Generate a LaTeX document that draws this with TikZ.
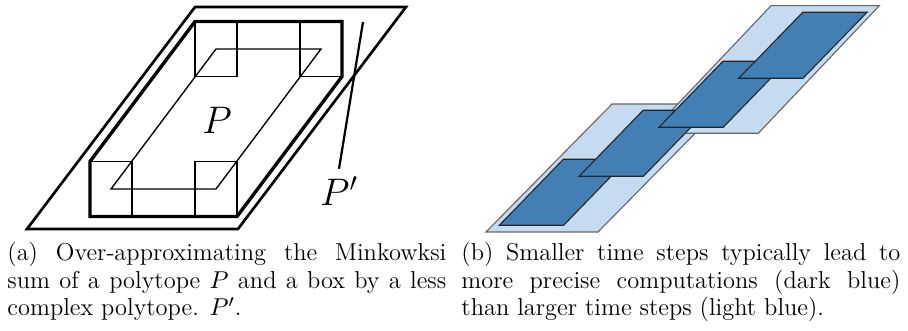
\documentclass[tikz,border=0pt]{standalone}
\usepackage{amsmath}
\usepackage{xcolor}
\usepackage{tikz}
\usetikzlibrary{positioning,calc}
\definecolor{fineblue}{RGB}{65,127,181}
\definecolor{coarseblue}{RGB}{198,219,239}

\begin{document}
\begin{tikzpicture}[x=0.45pt,y=-0.45pt,
    hull/.style={draw,line width=1.2pt},
    sumpoly/.style={draw,line width=1.5pt},
    thinpoly/.style={draw,line width=0.6pt},
    pline/.style={line width=1pt},
    coarse/.style={fill=coarseblue,draw=black!60,line width=0.5pt},
    fine/.style={fill=fineblue,draw=black!85,line width=0.5pt},
    polylabel/.style={font=\LARGE},
    caption/.style={anchor=north west,inner sep=0pt,text width=197.5pt,align=justify,
                    font=\fontsize{11}{12.4}\selectfont}
]
\useasboundingbox (0,0) rectangle (908,331);

\draw[hull] (27,229) -- (238,229) -- (406,7) -- (195,7) -- cycle;
\draw[thinpoly] (111,189) -- (216,189) -- (321,49) -- (216,49) -- cycle;
\foreach \x/\y in {111/189,216/189,216/49,321/49}
  \draw[thinpoly] (\x-21,\y-27.5) rectangle (\x+21,\y+27.5);
\draw[sumpoly] (90,216.5) -- (237,216.5) -- (342,76.5) -- (342,21.5) -- (195,21.5) -- (90,161.5) -- cycle;

\node[polylabel] (P) at (217,120) {$P$};
\node[polylabel] (pprime) at (339,191) {$P'$};
\coordinate (ptop) at (363,22);
\draw[pline] (ptop) -- (pprime.north);

\draw[coarse] (486,232) -- (598,232) -- (724,104) -- (612,104) -- cycle;
\draw[coarse] (650,133.3) -- (758.3,133.3) -- (879.3,5.7) -- (771,5.7) -- cycle;
\foreach \i in {0,...,3}
  \draw[fine] (499.3+79.8*\i,225.3-49*\i) -- ++(64.3,0) -- ++(64,-66) -- ++(-64.3,0) -- cycle;

\node[caption] (capa) at (7,242) {(a) Over-approximating the Minkowksi\linebreak
  sum of a polytope $P$ and a box by a less\linebreak complex polytope. $P'$.};
\node[caption] (capb) at (461,242) {(b) Smaller time steps typically lead to\linebreak
  more precise computations (dark blue)\linebreak than larger time steps (light blue).};
\end{tikzpicture}
\end{document}
